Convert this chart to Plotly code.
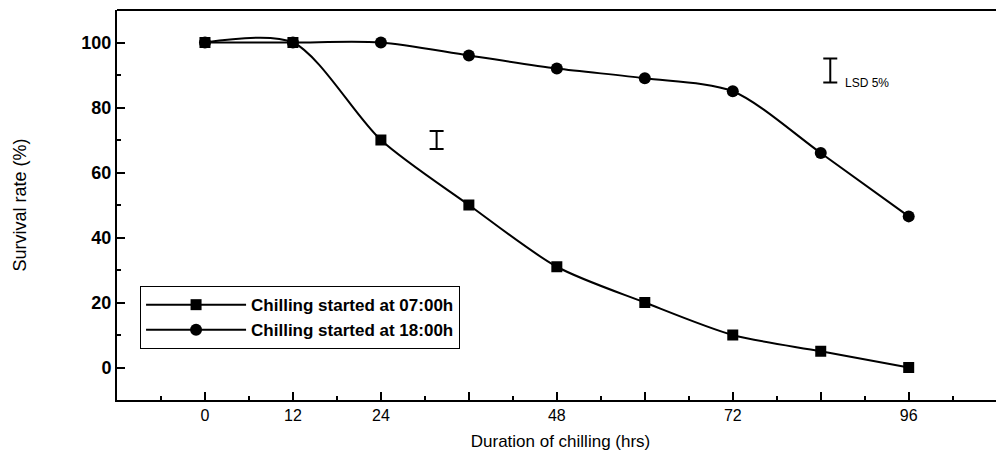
import plotly.graph_objects as go

hours = [0, 12, 24, 36, 48, 60, 72, 84, 96]
survival_07h = [100, 100, 70, 50, 31, 20, 10, 5, 0]
survival_18h = [100, 100, 100, 96, 92, 89, 85, 66, 46.5]
series_names = ["Chilling started at 07:00h", "Chilling started at 18:00h"]

x_tickvals = [0, 12, 24, 36, 48, 60, 72, 84, 96]
x_ticktext = ["0", "12", "24", "", "48", "", "72", "", "96"]
y_tickvals = [0, 20, 40, 60, 80, 100]

lsd_x = [31.6, 85.3]
lsd_y = [70, 91.4]
lsd_half = [2.8, 3.7]
lsd_label = "LSD 5%"

font = "Liberation Sans, Arial, sans-serif"

fig = go.Figure()
fig.add_trace(go.Scatter(
    x=hours, y=survival_07h, name=series_names[0], mode="lines+markers",
    line=dict(color="black", width=2, shape="spline", smoothing=0.8),
    marker=dict(symbol="square", size=11, color="black"),
))
fig.add_trace(go.Scatter(
    x=hours, y=survival_18h, name=series_names[1], mode="lines+markers",
    line=dict(color="black", width=2, shape="spline", smoothing=0.8),
    marker=dict(symbol="circle", size=12, color="black"),
))
fig.add_trace(go.Scatter(
    x=lsd_x, y=lsd_y, mode="markers", showlegend=False,
    marker=dict(size=1, color="rgba(0,0,0,0)"),
    error_y=dict(type="data", array=lsd_half, symmetric=True,
                 color="black", thickness=2, width=7),
    hoverinfo="skip",
))
fig.add_annotation(x=lsd_x[1] + 1.8, y=lsd_y[1] - 3.8, text=lsd_label,
                   showarrow=False, xanchor="left", yanchor="middle",
                   font=dict(family=font, size=12, color="black"))

# page has an 8px body margin, so the figure is sized to end at the window edge
fig.update_layout(
    width=996, height=451,
    margin=dict(l=109, r=0, t=2, b=59, autoexpand=False),
    paper_bgcolor="white", plot_bgcolor="white",
    font=dict(family=font, color="black", size=16),
    showlegend=True,
    legend=dict(x=0.026, y=0.292, xanchor="left", yanchor="top",
                bgcolor="white", bordercolor="black", borderwidth=1,
                font=dict(family=font, size=17, color="black", weight="bold"),
                tracegroupgap=0, itemwidth=100, entrywidth=352),
)
fig.update_xaxes(
    range=[-12, 109], showline=True, linecolor="black", linewidth=2,
    mirror=False, showgrid=False, zeroline=False, automargin=False,
    tickmode="array", tickvals=x_tickvals, ticktext=x_ticktext,
    ticks="inside", ticklen=8, tickwidth=1.5, tickcolor="black",
    minor=dict(ticks="inside", ticklen=4, dtick=6, tick0=0, tickcolor="black", tickwidth=1.5),
    tickfont=dict(family=font, size=16),
    title=dict(text="Duration of chilling (hrs)", font=dict(family=font, size=17), standoff=12),
)
fig.update_yaxes(
    range=[-10, 110], showline=True, linecolor="black", linewidth=2,
    mirror=False, showgrid=False, zeroline=False, automargin=False,
    tickmode="array", tickvals=y_tickvals,
    ticks="inside", ticklen=8, tickwidth=1.5, tickcolor="black",
    minor=dict(ticks="inside", ticklen=4, dtick=10, tick0=0, tickcolor="black", tickwidth=1.5),
    tickfont=dict(family=font, size=18, weight="bold"),
    title=dict(text="Survival rate (%)", font=dict(family=font, size=18), standoff=50),
)
fig.add_shape(type="line", xref="paper", yref="paper", x0=0, x1=1, y0=1, y1=1,
              line=dict(color="black", width=2))

fig.write_html("out.html")
